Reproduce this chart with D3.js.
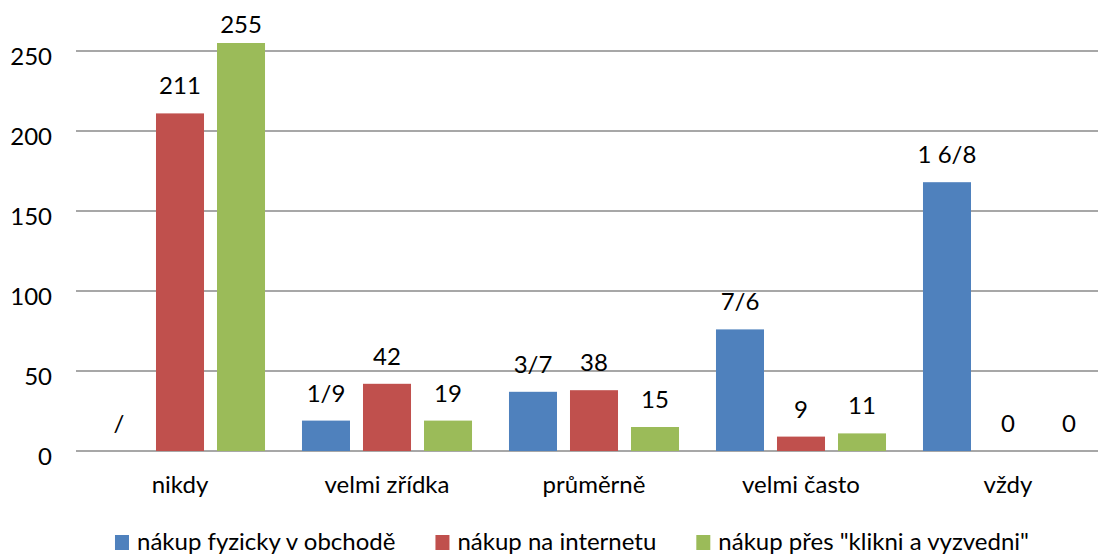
<!DOCTYPE html>
<html>
<head>
<meta charset="utf-8">
<script src="https://cdn.jsdelivr.net/npm/d3@7"></script>
<style>
  html, body { margin: 0; padding: 0; background: #fff; }
  svg { display: block; }
  text { font-family: Lato, "Open Sans", sans-serif; fill: #000; }
</style>
</head>
<body>
<svg id="chart" width="1098" height="556"></svg>
<script>
const categories = ["nikdy", "velmi zřídka", "průměrně", "velmi často", "vždy"];
const seriesNames = ["nákup fyzicky v obchodě", "nákup na internetu", "nákup přes \"klikni a vyzvedni\""];
const blueValues = [0, 19, 37, 76, 168];
const redValues = [211, 42, 38, 9, 0];
const greenValues = [255, 19, 15, 11, 0];
const blueLabels = ["/", "1/9", "3/7", "7/6", "1 6/8"];
const redLabels = ["211", "42", "38", "9", "0"];
const greenLabels = ["255", "19", "15", "11", "0"];
const yTicks = [0, 50, 100, 150, 200, 250];
const colors = ["#4F81BD", "#C0504D", "#9BBB59"];

const seriesValues = [blueValues, redValues, greenValues];
const seriesLabels = [blueLabels, redLabels, greenLabels];

const svg = d3.select("#chart");
const fontSize = 24;

const y = d3.scaleLinear().domain([0, 250]).range([451, 51]);
const x0 = d3.scaleBand().domain(categories).range([76.5, 1111.5]).padding(0);
const x1 = d3.scaleBand().domain(d3.range(3)).range([0, x0.bandwidth()])
  .paddingInner(0.213).paddingOuter(0.303);

// gridlines
svg.append("g").selectAll("line").data(yTicks).join("line")
  .attr("x1", 76).attr("x2", 1111)
  .attr("y1", d => y(d)).attr("y2", d => y(d))
  .attr("stroke", "#8a8a8a").attr("stroke-width", 1.6);

// y tick labels
svg.append("g").selectAll("text").data(yTicks).join("text")
  .attr("x", 52).attr("y", d => y(d) + 14)
  .attr("text-anchor", "end").attr("font-size", fontSize)
  .text(d => d);

// bars
const data = [];
categories.forEach((c, ci) => {
  seriesValues.forEach((vals, si) => {
    data.push({ cat: c, s: si, v: vals[ci], label: seriesLabels[si][ci] });
  });
});

svg.append("g").selectAll("rect").data(data.filter(d => d.v > 0)).join("rect")
  .attr("x", d => x0(d.cat) + x1(d.s))
  .attr("width", x1.bandwidth())
  .attr("y", d => y(d.v))
  .attr("height", d => y(0) - y(d.v))
  .attr("fill", d => colors[d.s]);

// data labels
svg.append("g").selectAll("text").data(data).join("text")
  .attr("x", d => x0(d.cat) + x1(d.s) + x1.bandwidth() / 2)
  .attr("y", d => Math.max(y(d.v) - 19, 33))
  .attr("text-anchor", "middle").attr("font-size", fontSize)
  .text(d => d.label);

// category labels
svg.append("g").selectAll("text").data(categories).join("text")
  .attr("x", d => x0(d) + x0.bandwidth() / 2)
  .attr("y", 493)
  .attr("text-anchor", "middle").attr("font-size", fontSize)
  .text(d => d);

// legend
const legend = svg.append("g");
const items = legend.selectAll("g").data(seriesNames).join("g");
items.append("rect").attr("width", 14).attr("height", 15).attr("y", 535)
  .attr("fill", (d, i) => colors[i]);
items.append("text").attr("y", 550).attr("font-size", fontSize).text(d => d);
let widths = [];
items.each(function () { widths.push(d3.select(this).select("text").node().getComputedTextLength()); });
const sq = 14, gapSq = 8, gapItem = 40;
const total = d3.sum(widths) + 3 * (sq + gapSq) + 2 * gapItem;
let cx = 572 - total / 2;
items.each(function (d, i) {
  const g = d3.select(this);
  g.select("rect").attr("x", cx);
  g.select("text").attr("x", cx + sq + gapSq);
  cx += sq + gapSq + widths[i] + gapItem;
});
</script>
</body>
</html>
